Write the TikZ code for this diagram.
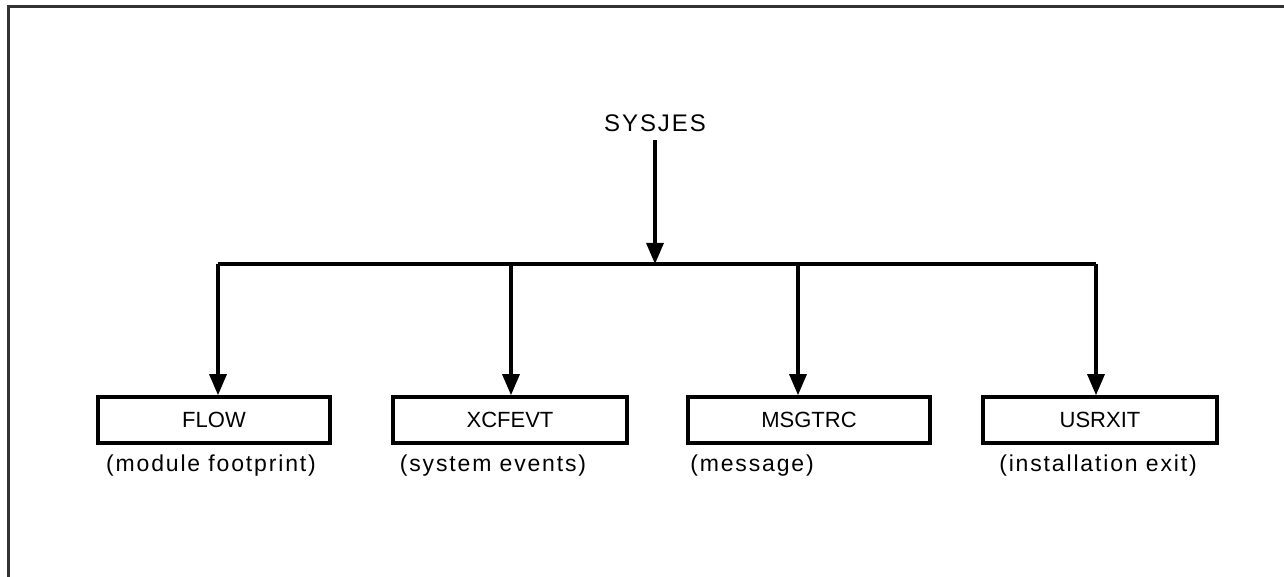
\documentclass[tikz,border=0pt]{standalone}
\usepackage{fontspec}
\setmainfont{Liberation Sans}
\usetikzlibrary{arrows.meta}
\newfontfamily\lblfont[LetterSpace=8]{Liberation Sans}
\newfontfamily\topfont[LetterSpace=8]{Liberation Sans}
\tikzset{
  frame/.style={line width=3bp, draw=black!80},
  modbox/.style={draw, line width=3.6bp, minimum width=232bp, minimum height=46bp, inner sep=0pt, font=\fontsize{22bp}{26bp}\selectfont},
  lbl/.style={inner sep=0pt, font=\lblfont\fontsize{23bp}{27bp}\selectfont},
  arr/.style={line width=3.2bp, -{Triangle[length=21bp,width=17bp]}},
  bus/.style={line width=3.2bp},
}
\begin{document}
\begin{tikzpicture}[x=1bp,y=-1bp]
\useasboundingbox (0,0) rectangle (1284,577);
\draw[frame] (8,577) -- (8,7) -- (1284,7);
\node[inner sep=0pt, font=\topfont\fontsize{24bp}{28bp}\selectfont] (sysjes) at (655,123) {SYSJES};
\coordinate (top) at (655,140);
\coordinate (j) at (655,264);
\coordinate (b1) at (218,264);
\coordinate (b2) at (511,264);
\coordinate (b3) at (798,264);
\coordinate (b4) at (1096,264);
\node[modbox] (flow) at (214,420) {FLOW};
\node[modbox, minimum width=234bp] (xcf) at (510,420) {XCFEVT};
\node[modbox, minimum width=242bp] (msg) at (809,420) {MSGTRC};
\node[modbox, minimum width=234bp] (usr) at (1100,420) {USRXIT};
\node[lbl] (l1) at (211,466) {(module footprint)};
\node[lbl] (l2) at (493,466) {(system events)};
\node[lbl] (l3) at (752,466) {(message)};
\node[lbl] (l4) at (1098,466) {(installation exit)};
\draw[arr] (top) -- (j);
\draw[bus] (b1) -- (b4);
\draw[arr] (b1) -- (b1 |- flow.north);
\draw[arr] (b2) -- (b2 |- xcf.north);
\draw[arr] (b3) -- (b3 |- msg.north);
\draw[arr] (b4) -- (b4 |- usr.north);
\end{tikzpicture}
\end{document}
